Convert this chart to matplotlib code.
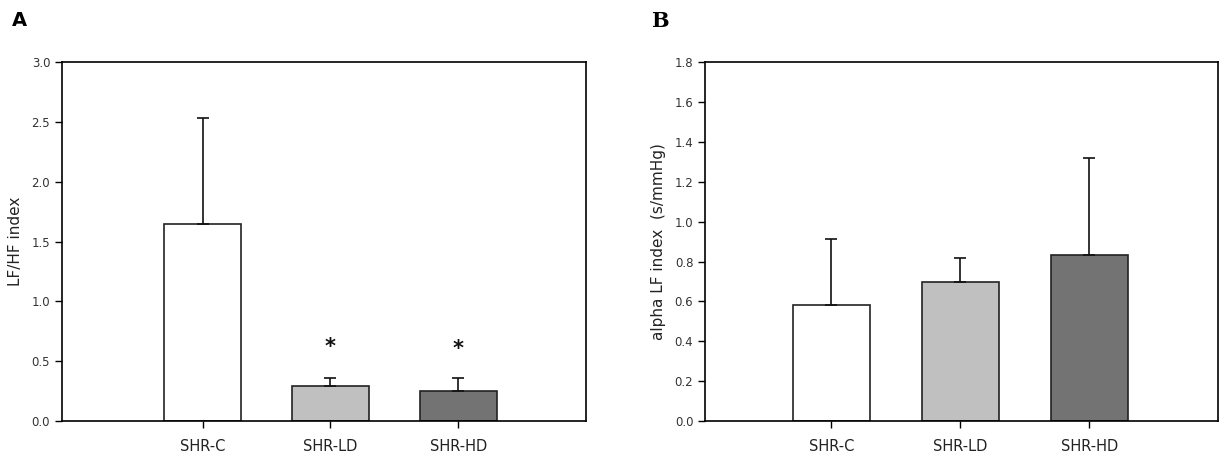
import matplotlib.pyplot as plt
import numpy as np

groups = ["SHR-C", "SHR-LD", "SHR-HD"]
colors = ["#ffffff", "#c0c0c0", "#737373"]

lfhf_mean = [1.65, 0.29, 0.25]
lfhf_sd = [0.88, 0.07, 0.11]
lfhf_star = [None, 0.62, 0.60]

alpha_mean = [0.58, 0.695, 0.835]
alpha_sd = [0.335, 0.125, 0.485]

fig = plt.figure(figsize=(12.23, 4.66), dpi=100)
axA = fig.add_axes([0.0507, 0.0966, 0.4285, 0.770])
axB = fig.add_axes([0.5765, 0.0966, 0.4195, 0.770])


def draw(ax, mean, sd, ymax, step, ylabel, xlim):
    x = np.arange(len(groups))
    ax.bar(x, mean, width=0.6, color=colors, edgecolor="#222222", linewidth=1.2, zorder=2)
    ax.errorbar(x, mean, yerr=[np.zeros(len(mean)), sd], fmt="none", ecolor="#111111",
                elinewidth=1.2, capsize=4, capthick=1.2, zorder=3)
    ax.set_xlim(*xlim)
    ax.set_ylim(0, ymax)
    ax.set_yticks(np.arange(0, ymax + step / 2, step))
    ax.yaxis.set_major_formatter(plt.FormatStrFormatter("%.1f"))
    ax.set_xticks(x)
    ax.set_xticklabels(groups, fontsize=10.5, color="#222222")
    ax.tick_params(axis="y", direction="out", length=5, width=1, labelsize=8.5, labelcolor="#333333")
    ax.tick_params(axis="x", direction="out", length=5, width=1, pad=8)
    for s in ax.spines.values():
        s.set_linewidth(1.2)
    ax.set_ylabel(ylabel, fontsize=11, color="#222222", labelpad=6)


draw(axA, lfhf_mean, lfhf_sd, 3.0, 0.5, "LF/HF index", (-1.1, 3.0))
for i, y in enumerate(lfhf_star):
    if y is not None:
        axA.text(i, y, "*", ha="center", va="center", fontsize=15, fontweight="bold", color="#111111")

draw(axB, alpha_mean, alpha_sd, 1.8, 0.2, "alpha LF index  (s/mmHg)", (-0.98, 3.0))

fig.text(0.010, 0.955, "A", fontsize=14, fontweight="bold", ha="left", va="center")
fig.text(0.532, 0.955, "B", fontsize=15, fontweight="bold", family="serif", ha="left", va="center")

fig.savefig("out.png", dpi=100)
